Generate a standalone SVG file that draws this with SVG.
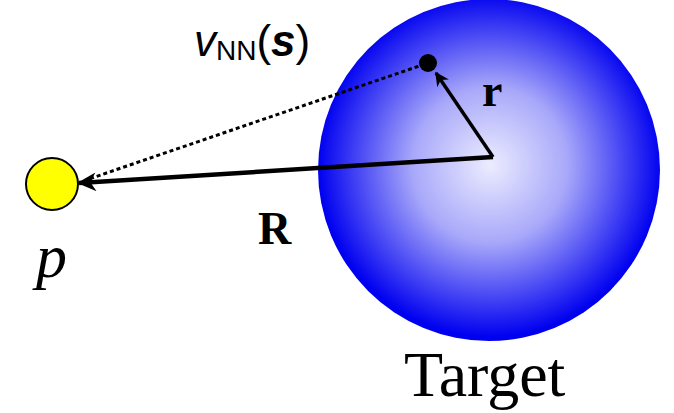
<svg xmlns="http://www.w3.org/2000/svg" width="674" height="413" viewBox="0 0 674 413">
<defs>
<radialGradient id="sph" cx="490" cy="165" r="172" gradientUnits="userSpaceOnUse">
<stop offset="0" stop-color="#ececff"/>
<stop offset="0.45" stop-color="#a8a8fa"/>
<stop offset="1" stop-color="#0000f0"/>
</radialGradient>
<marker id="ah" viewBox="0 0 10 10" refX="9" refY="5" markerWidth="5.5" markerHeight="4.2" orient="auto" markerUnits="strokeWidth">
<path d="M0,0 L10,5 L0,10 L3,5 Z" fill="#000"/>
</marker>
<marker id="ah2" viewBox="0 0 10 10" refX="9" refY="5" markerWidth="5" markerHeight="4" orient="auto" markerUnits="strokeWidth">
<path d="M0,0 L10,5 L0,10 L3,5 Z" fill="#000"/>
</marker>
</defs>
<style>
.serif{font-family:"Liberation Serif","DejaVu Serif",serif;fill:#000}
.sans{font-family:"Liberation Sans","DejaVu Sans",sans-serif;fill:#000}
</style>
<g id="target">
<circle cx="489" cy="170" r="171" fill="url(#sph)"/>
<text class="serif" x="404" y="396" font-size="64">Target</text>
</g>
<g id="particle">
<circle cx="52" cy="184" r="26" fill="#ffff00" stroke="#000" stroke-width="2"/>
<text class="serif" x="36" y="277" font-size="62" font-style="italic">p</text>
</g>
<g id="point">
<circle cx="428" cy="63" r="9" fill="#000"/>
</g>
<g id="connectors">
<line x1="493" y1="157" x2="79" y2="183" stroke="#000" stroke-width="4.5" marker-end="url(#ah)"/>
<line x1="493" y1="157" x2="436" y2="73" stroke="#000" stroke-width="3.5" marker-end="url(#ah2)"/>
<line x1="425" y1="64" x2="86" y2="180" stroke="#000" stroke-width="3" stroke-dasharray="4,3"/>
</g>
<g id="labels">
<text class="serif" x="482" y="106" font-size="46" font-weight="bold">r</text>
<text class="serif" x="258" y="244" font-size="46" font-weight="bold">R</text>
<text class="sans" x="194" y="56" font-size="44"><tspan font-style="italic">v</tspan><tspan font-size="28" dy="4">NN</tspan><tspan dy="-4">(</tspan><tspan font-style="italic" font-weight="bold">s</tspan><tspan>)</tspan></text>
</g>
</svg>
